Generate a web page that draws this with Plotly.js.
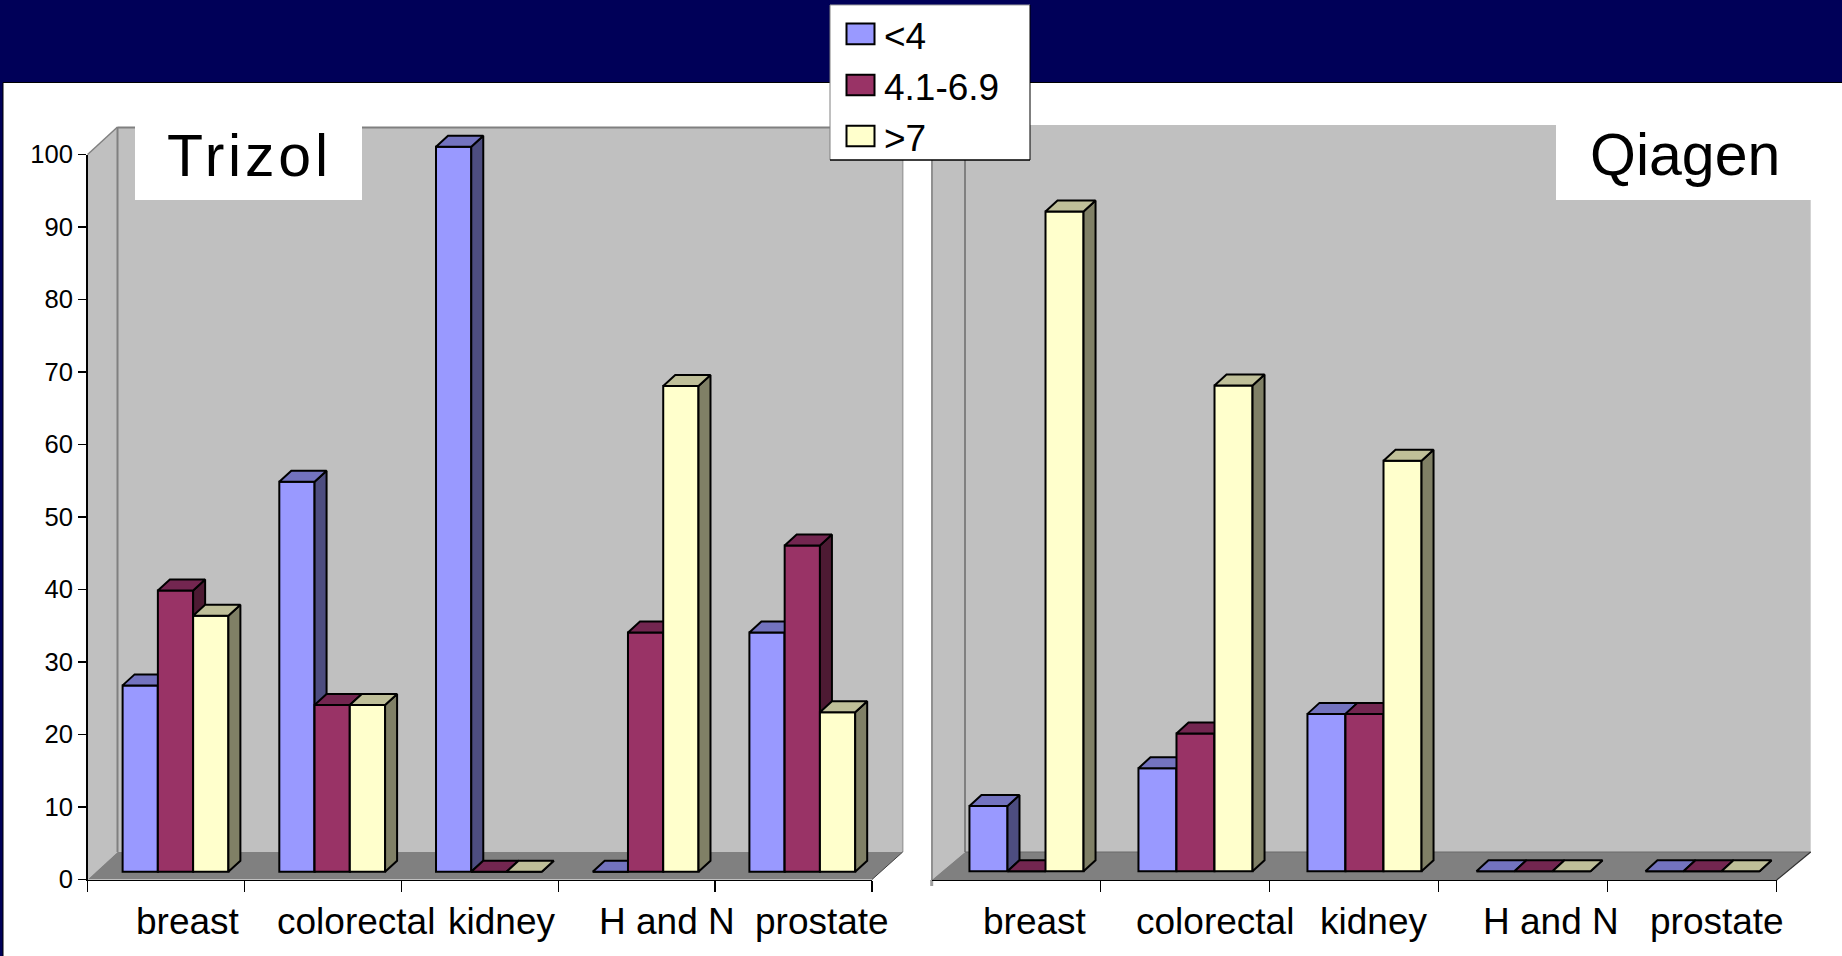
<!DOCTYPE html>
<html>
<head>
<meta charset="utf-8">
<script src="https://cdn.plot.ly/plotly-3.0.1.min.js"></script>
<style>html,body{margin:0;padding:0;background:#fff;overflow:hidden}#chart{width:1842px;height:956px}</style>
</head>
<body>
<div id="chart"></div>
<script>
// ---- data ----
const categories = ['breast', 'colorectal', 'kidney', 'H and N', 'prostate'];
const seriesNames = ['<4', '4.1-6.9', '>7'];
const trizolLow = [25.7, 53.8, 100, 0, 33];
const trizolMid = [38.8, 23, 0, 33, 45];
const trizolHigh = [35.3, 23, 0, 67, 22];
const qiagenLow = [9, 14.2, 21.7, 0, 0];
const qiagenMid = [0, 19, 21.7, 0, 0];
const qiagenHigh = [91, 67, 56.6, 0, 0];
const yTicks = [0, 10, 20, 30, 40, 50, 60, 70, 80, 90, 100];

// ---- styles ----
const frontColors = ['#9999FF', '#993366', '#FFFFCC'];
const topColors = ['#7373BF', '#732650', '#BFBF99'];
const sideColors = ['#4D4D80', '#4D1A33', '#808066'];
const W = 1842, H = 956;
const px = x => x / W, py = y => 1 - y / H;
const UNIT = 7.25;          // pixels per value unit
const DEPTH_X = 12, DEPTH_Y = 11;
const BAR_W = 0.225;
const FONT = 'Liberation Sans, Arial, sans-serif';

const charts = [
  {name: 'Trizol', series: [trizolLow, trizolMid, trizolHigh], center0: 175.5, step: 156.7, base: 871.7,
   labelX: [187.7, 355.8, 501.6, 666.7, 822]},
  {name: 'Qiagen', series: [qiagenLow, qiagenMid, qiagenHigh], center0: 1026.5, step: 169, base: 871.2,
   labelX: [1035, 1214.6, 1373, 1550.6, 1717]}
];

// empty traces so that the two front axes get drawn
const traces = [
  {type: 'scatter', mode: 'none', x: [0], y: [0], xaxis: 'x', yaxis: 'y', hoverinfo: 'skip'},
  {type: 'scatter', mode: 'none', x: [0], y: [0], xaxis: 'x2', yaxis: 'y2', hoverinfo: 'skip'}
];
const layout = {
  width: W, height: H, autosize: false,
  margin: {l: 0, r: 0, t: 0, b: 0, pad: 0},
  paper_bgcolor: '#FFFFFF', plot_bgcolor: 'rgba(0,0,0,0)',
  showlegend: false, hovermode: false, font: {family: FONT, color: '#000'},
  // front axes of the two charts
  xaxis: {domain: [px(87.6), px(872)], anchor: 'y', type: 'linear', range: [0, 5], tickmode: 'array',
    tickvals: [0, 1, 2, 3, 4, 5], ticktext: ['', '', '', '', '', ''], ticks: 'outside', ticklen: 11, tickwidth: 1.3,
    tickcolor: '#000', showline: true, linecolor: '#000', linewidth: 1.5, showgrid: false, zeroline: false},
  yaxis: {domain: [py(879.5), py(154.5)], anchor: 'x', range: [0, 100], tickmode: 'array', tickvals: yTicks,
    ticks: 'outside', ticklen: 8, tickwidth: 1.3, tickcolor: '#000', showline: true, linecolor: '#000', linewidth: 1.5,
    showgrid: false, zeroline: false, tickfont: {size: 25.6, family: FONT, color: '#000'}},
  xaxis2: {domain: [px(931.7), px(1776.7)], anchor: 'y2', type: 'linear', range: [0, 5], tickmode: 'array',
    tickvals: [1, 2, 3, 4, 5], ticktext: ['', '', '', '', ''], ticks: 'outside', ticklen: 11, tickwidth: 1.3,
    tickcolor: '#000', showline: true, linecolor: '#000', linewidth: 1.5, showgrid: false, zeroline: false},
  yaxis2: {domain: [py(879.8), py(154.5)], anchor: 'x2', range: [0, 100], visible: false},
  shapes: [], annotations: []
};

// ---- one overlaid subplot per series so each series paints over the previous one ----
let axisId = 3;
charts.forEach(chart => {
  const left = chart.center0 - chart.step / 2, right = left + 5 * chart.step;
  const dx = DEPTH_X / chart.step, dy = DEPTH_Y / UNIT;
  const topPx = 100, botPx = 880;
  const slots = categories.map((c, i) => i);
  chart.series.forEach((vals, k) => {
    const xn = 'x' + axisId, yn = 'y' + axisId;
    layout['xaxis' + axisId] = {domain: [px(left), px(right)], anchor: yn, type: 'linear', range: [-0.5, 4.5], visible: false};
    layout['yaxis' + axisId] = {domain: [py(botPx), py(topPx)], anchor: xn, type: 'linear',
      range: [(chart.base - botPx) / UNIT, (chart.base - topPx) / UNIT], visible: false};
    const off = -1.5 * BAR_W + k * BAR_W;
    traces.push({type: 'bar', name: seriesNames[k], x: slots, y: vals, text: categories, textposition: 'none', xaxis: xn, yaxis: yn,
      width: BAR_W, offset: off, marker: {color: frontColors[k], line: {color: '#000', width: 2}}});
    const sideX = [], sideY = [], topX = [], topY = [];
    vals.forEach((v, i) => {
      const l = i + off, r = l + BAR_W;
      sideX.push(r, r + dx, r + dx, r, r, null); sideY.push(0, dy, v + dy, v, 0, null);
      topX.push(l, r, r + dx, l + dx, l, null); topY.push(v, v, v + dy, v + dy, v, null);
    });
    const face = (x, y, c) => ({type: 'scatter', mode: 'lines', x, y, xaxis: xn, yaxis: yn, fill: 'toself',
      fillcolor: c, line: {color: '#000', width: 2}, connectgaps: false, hoverinfo: 'skip'});
    traces.push(face(sideX, sideY, sideColors[k]));
    traces.push(face(topX, topY, topColors[k]));
    axisId++;
  });
  // category labels
  categories.forEach((c, i) => layout.annotations.push({xref: 'paper', yref: 'paper', x: px(chart.labelX[i]), y: py(921),
    xanchor: 'center', yanchor: 'middle', text: c, showarrow: false, font: {size: 37, family: FONT, color: '#000'}}));
});

// ---- scenery ----
const poly = (pts, fill, lineColor, lw, layer) => ({type: 'path', xref: 'paper', yref: 'paper', layer: layer || 'below',
  path: 'M' + pts.map(p => px(p[0]) + ',' + py(p[1])).join('L') + 'Z', fillcolor: fill,
  line: {color: lineColor || 'rgba(0,0,0,0)', width: lw || 0}});
const rect = (x0, y0, x1, y1, fill, layer) => ({type: 'rect', xref: 'paper', yref: 'paper', layer: layer || 'below',
  x0: px(x0), x1: px(x1), y0: py(y0), y1: py(y1), fillcolor: fill, line: {width: 0}});
const seg = (x0, y0, x1, y1, c, w, layer) => ({type: 'line', xref: 'paper', yref: 'paper', layer: layer || 'below',
  x0: px(x0), x1: px(x1), y0: py(y0), y1: py(y1), line: {color: c, width: w}});

layout.shapes.push(
  rect(0, 0, W, 82.5, '#000058'),
  rect(0, 0, 3, H, '#000058'),
  seg(3, 82.5, W, 82.5, '#000000', 1.2),
  seg(3, 82.5, 3, H, '#000000', 1),
  // Trizol walls and floor
  rect(117.5, 127, 902.7, 852, '#C0C0C0'),
  seg(117.5, 127.5, 902.7, 127.5, '#808080', 2),
  seg(902.7, 127, 902.7, 852, '#A0A0A0', 1.5),
  poly([[87.6, 154.5], [117.5, 127], [117.5, 852], [87.6, 879.5]], '#C0C0C0'),
  seg(87.6, 154.5, 117.5, 127, '#808080', 1.5),
  seg(117.5, 127, 117.5, 852, '#808080', 2),
  poly([[87.6, 879.5], [117.5, 852], [902.7, 852], [872, 879.5]], '#808080'),
  seg(872, 879.5, 902.7, 852, '#404040', 1),
  // Qiagen walls and floor
  rect(965, 125, 1810.7, 852, '#C0C0C0'),
  poly([[931.7, 153], [965, 125], [965, 852], [931.7, 880]], '#C0C0C0'),
  seg(932, 153, 932, 882, '#909090', 2),
  seg(965, 125, 965, 852, '#808080', 2),
  poly([[931.7, 880], [965, 852], [1810.7, 852], [1776.7, 880]], '#808080'),
  seg(965, 852, 1810.7, 852, '#6A6A6A', 1),
  seg(1776.7, 880, 1810.7, 852, '#303030', 1.2),
  seg(931.7, 880, 931.7, 886, '#A0A0A0', 3),
  // title plates
  rect(135, 120, 362, 200, '#FFFFFF'),
  rect(1556, 90, 1811, 200, '#FFFFFF'),
  // legend box
  rect(830, 5, 1030, 160, '#FFFFFF', 'above'),
  seg(830, 5, 1030, 5, '#A0A0A0', 1, 'above'),
  seg(830, 5, 830, 160, '#808080', 1, 'above'),
  seg(1030, 5, 1030, 160, '#000000', 1, 'above'),
  seg(830, 160, 1030, 160, '#000000', 1.5, 'above')
);

const legendY = [[23.5, 44.3], [74.7, 95.3], [125.7, 146.3]];
seriesNames.forEach((n, k) => {
  layout.shapes.push({type: 'rect', xref: 'paper', yref: 'paper', layer: 'above', x0: px(846.5), x1: px(874.5),
    y0: py(legendY[k][0]), y1: py(legendY[k][1]), fillcolor: frontColors[k], line: {color: '#000', width: 2}});
  layout.annotations.push({xref: 'paper', yref: 'paper', x: px(882), y: py(legendY[k][0] + 12.5), xanchor: 'left',
    yanchor: 'middle', text: n, showarrow: false, font: {size: 37, family: FONT, color: '#000'}});
});

// chart titles
layout.annotations.push(
  {xref: 'paper', yref: 'paper', x: px(249.8), y: py(155.5), xanchor: 'center', yanchor: 'middle', showarrow: false,
   text: '<span style="letter-spacing:3.8px">' + charts[0].name + '</span>', font: {size: 59, family: FONT, color: '#000'}},
  {xref: 'paper', yref: 'paper', x: px(1685), y: py(154.5), xanchor: 'center', yanchor: 'middle', showarrow: false,
   text: charts[1].name, font: {size: 59, family: FONT, color: '#000'}}
);

Plotly.newPlot('chart', traces, layout, {displayModeBar: false, staticPlot: true});
</script>
</body>
</html>
